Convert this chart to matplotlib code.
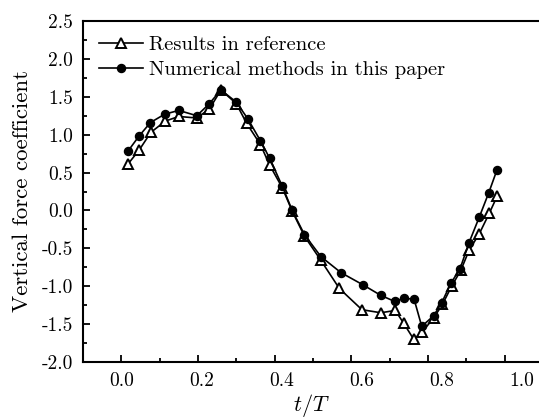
import numpy as np
import matplotlib
matplotlib.use('Agg')
import matplotlib.pyplot as plt
from matplotlib.transforms import ScaledTranslation

plt.rcParams['font.family'] = 'serif'
plt.rcParams['font.serif'] = ['cmr10', 'DejaVu Serif']
plt.rcParams['mathtext.fontset'] = 'cm'
plt.rcParams['axes.formatter.use_mathtext'] = True

# Results in reference (open triangles)
t_ref = [0.017, 0.047, 0.077, 0.115, 0.15, 0.197, 0.23, 0.26, 0.30, 0.327, 0.363,
         0.387, 0.42, 0.446, 0.478, 0.521, 0.569, 0.628, 0.677, 0.715, 0.737, 0.763,
         0.784, 0.815, 0.838, 0.862, 0.886, 0.908, 0.934, 0.96, 0.981]
cf_ref = [0.61, 0.80, 1.03, 1.18, 1.24, 1.22, 1.34, 1.59, 1.41, 1.15, 0.87,
          0.60, 0.30, -0.01, -0.34, -0.66, -1.03, -1.31, -1.35, -1.32, -1.49, -1.70,
          -1.61, -1.42, -1.24, -1.00, -0.79, -0.52, -0.31, -0.04, 0.19]

# Numerical methods in this paper (filled circles)
t_num = [0.017, 0.046, 0.076, 0.113, 0.15, 0.197, 0.228, 0.26, 0.30, 0.33, 0.363,
         0.387, 0.42, 0.446, 0.478, 0.521, 0.573, 0.63, 0.677, 0.713, 0.737, 0.764,
         0.784, 0.815, 0.836, 0.86, 0.884, 0.907, 0.934, 0.959, 0.98]
cf_num = [0.78, 0.98, 1.16, 1.27, 1.32, 1.25, 1.40, 1.59, 1.43, 1.21, 0.92,
          0.69, 0.32, 0.00, -0.32, -0.61, -0.82, -0.98, -1.12, -1.20, -1.16, -1.17,
          -1.53, -1.39, -1.22, -0.96, -0.77, -0.43, -0.09, 0.235, 0.53]

xticks = [0.0, 0.2, 0.4, 0.6, 0.8, 1.0]
yticks = [-2.0, -1.5, -1.0, -0.5, 0.0, 0.5, 1.0, 1.5, 2.0, 2.5]

fig = plt.figure(figsize=(5.39, 4.18), dpi=100)
ax = fig.add_axes([83/539, 56/418, 1 - 83/539, 341/418])

ax.plot(t_ref, cf_ref, color='black', lw=1.2, marker='^', ms=7,
        mfc='white', mec='black', mew=1.4, label='Results in reference')
ax.plot(t_num, cf_num, color='black', lw=1.2, marker='o', ms=5.8,
        mfc='black', mec='black', label='Numerical methods in this paper')

ax.set_xlim(-0.1, 1.09)
ax.set_ylim(-2.0, 2.5)
ax.set_xticks(xticks)
ax.set_xticklabels(['{:.1f}'.format(v) for v in xticks])
ax.set_yticks(yticks)
ax.set_yticklabels(['{:.1f}'.format(v) for v in yticks])
ax.set_xticks(np.arange(-0.1, 1.05, 0.1), minor=True)
ax.set_yticks(np.arange(-2.0, 2.51, 0.25), minor=True)

ax.tick_params(which='both', direction='in', top=False, right=False,
               labelsize=14, width=1.3, pad=7)
ax.tick_params(which='major', length=5)
ax.tick_params(which='minor', length=3)
for side in ['left', 'bottom', 'top']:
    ax.spines[side].set_linewidth(1.5)
ax.spines['right'].set_visible(False)

# the x tick labels in the original drift slightly right of their ticks
for lab, v in zip(ax.get_xticklabels(), xticks):
    lab.set_transform(lab.get_transform() +
                      ScaledTranslation(0.174 * v, 0, fig.dpi_scale_trans))

ax.set_xlabel(r'$t/T$', fontsize=16, labelpad=2)
ax.set_ylabel('Vertical force coefficient', fontsize=16.5)
ax.yaxis.set_label_coords(-0.112, 0.5)

ax.legend(loc='upper left', bbox_to_anchor=(0.035, 0.958), frameon=False,
          fontsize=14.8, handlelength=2.15, handletextpad=0.3,
          borderpad=0, borderaxespad=0, labelspacing=0.35)

fig.savefig('out.png', dpi=100)
